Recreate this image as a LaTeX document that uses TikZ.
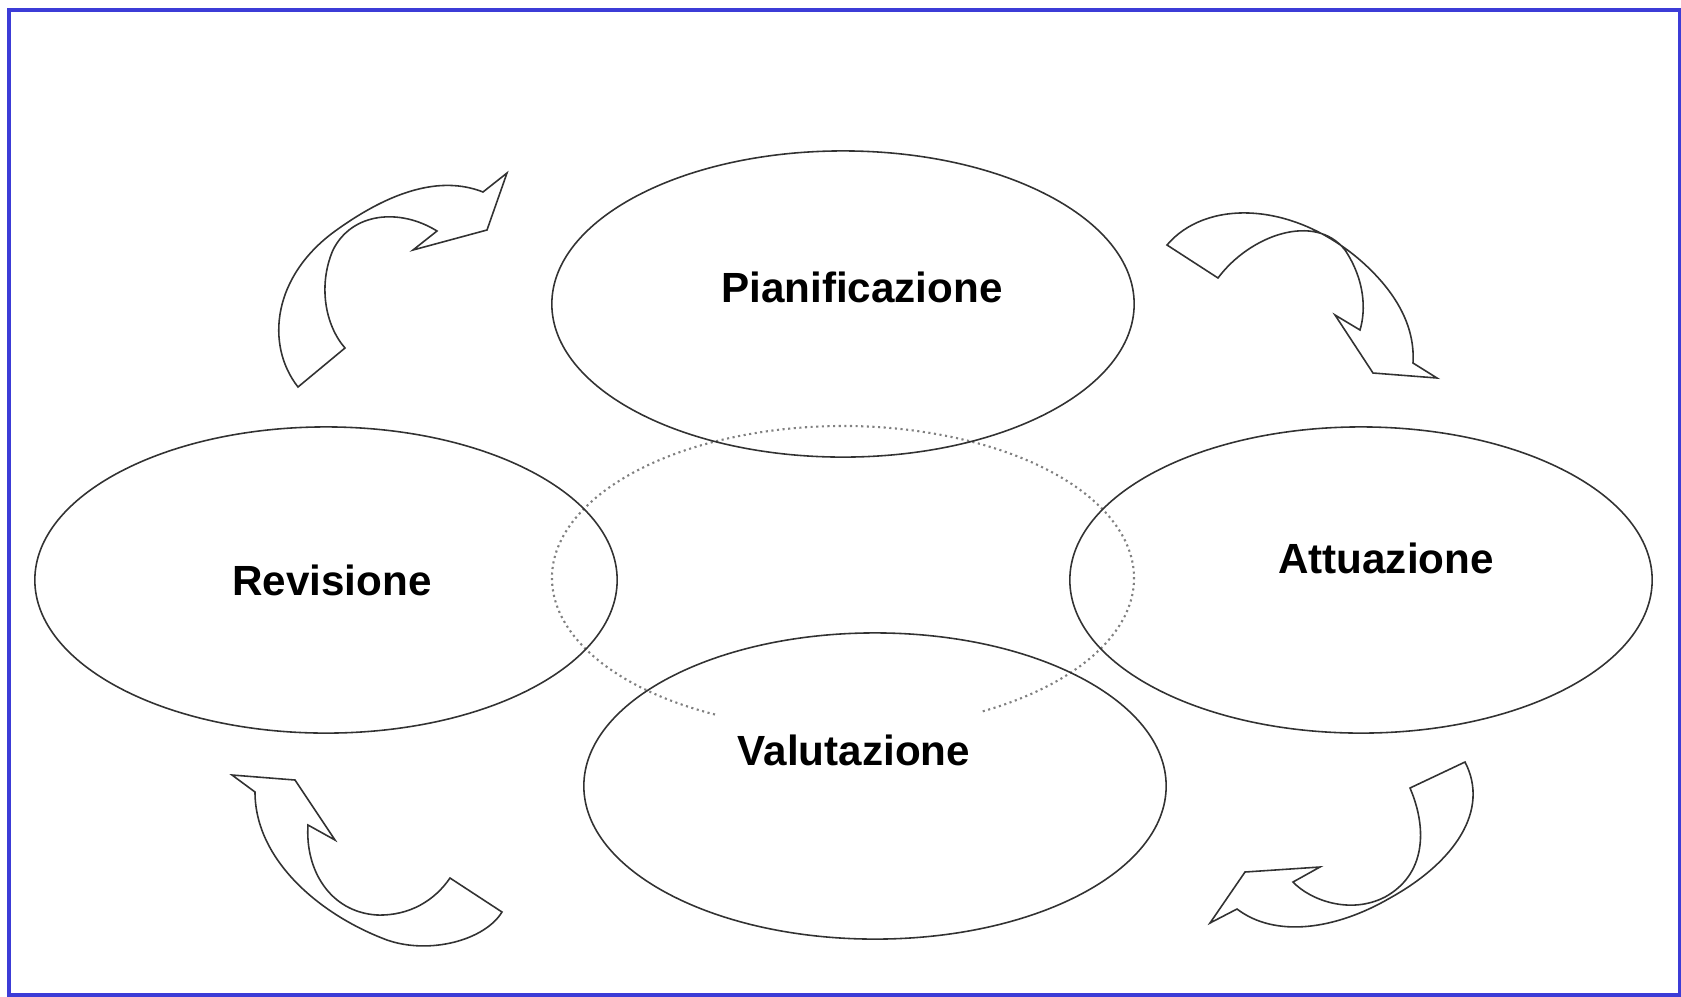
\documentclass[tikz,border=0pt]{standalone}
\usepackage{fontspec}
\setmainfont{Liberation Sans}
\usetikzlibrary{shapes.geometric, positioning}
\definecolor{myblue}{RGB}{60, 60, 215}
\definecolor{myline}{RGB}{50, 50, 50}

\begin{document}
\begin{tikzpicture}[
    x=0.01cm, y=-0.01cm,
    phase/.style={ellipse, draw=myline, line width=0.45pt, inner sep=0pt, minimum width=5.82cm, minimum height=3.06cm},
    phasetext/.style={font=\fontsize{12}{14}\selectfont\bfseries, text=black, inner sep=0pt},
    bendarrow/.style={draw=myline, fill=white, line width=0.45pt, line join=miter}
]
\useasboundingbox (0,0) rectangle (1681,996);

% Frame
\draw[myblue, line width=0.9pt] (9,10) rectangle (1680,995);

% Central dotted cycle
\coordinate (mid) at (843,578);
\draw[gray, densely dotted, line width=0.6pt] (mid) ++(116.1:291 and 152) arc[start angle=116.1, end angle=421.5, x radius=291, y radius=152];

% Phases
\node[phase] (pian) at (843,304) {};
\node[phase] (rev) at (326,580) {};
\node[phase] (att) at (1361,580) {};
\node[phase] (val) at (875,786) {};

% Labels
\node[phasetext] (pianlbl) at (862,287) {Pianificazione};
\node[phasetext] (revlbl) at (332,580) {Revisione};
\node[phasetext] (attlbl) at (1386,558) {Attuazione};
\node[phasetext] (vallbl) at (854,750) {Valutazione};

% Curved arrows
% top left
\draw[bendarrow] (298,387) .. controls (265,345) and (272,275) .. (338,229)
    .. controls (390,192) and (440,175) .. (483,192)
    -- (507,173) -- (487,230) -- (413,250) -- (437,231)
    .. controls (400,208) and (352,212) .. (333,250)
    .. controls (318,285) and (325,325) .. (345,348) -- cycle;
% top right
\draw[bendarrow] (1167,245) .. controls (1205,200) and (1290,200) .. (1360,260)
    .. controls (1400,295) and (1415,330) .. (1413,363)
    -- (1437,378) -- (1373,373) -- (1335,315) -- (1360,330)
    .. controls (1366,310) and (1365,280) .. (1345,250)
    .. controls (1315,212) and (1250,235) .. (1218,278) -- cycle;
% bottom right
\draw[bendarrow] (1465,762) -- (1410,788)
    .. controls (1428,830) and (1425,875) .. (1385,897)
    .. controls (1350,915) and (1310,900) .. (1293,882)
    -- (1320,867) -- (1245,872) -- (1210,923) -- (1237,909)
    .. controls (1275,938) and (1335,930) .. (1390,898)
    .. controls (1455,862) and (1490,810) .. (1465,762) -- cycle;
% bottom left
\draw[bendarrow] (232,775) -- (295,780) -- (335,840) -- (308,825)
    .. controls (305,870) and (330,912) .. (377,915)
    .. controls (410,916) and (435,900) .. (450,878)
    -- (502,912)
    .. controls (485,940) and (430,955) .. (387,940)
    .. controls (320,915) and (255,860) .. (255,792) -- cycle;

\end{tikzpicture}
\end{document}
